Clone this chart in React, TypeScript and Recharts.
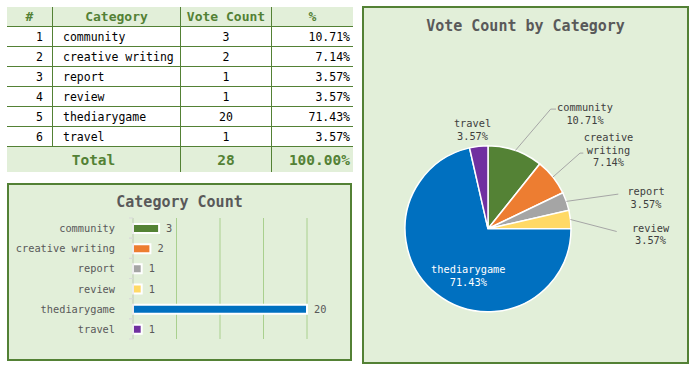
import React from 'react';
import { BarChart, Bar, XAxis, YAxis, CartesianGrid, LabelList, PieChart, Pie, Cell } from 'recharts';

const categories = ['community', 'creative writing', 'report', 'review', 'thediarygame', 'travel'];
const voteCounts = [3, 2, 1, 1, 20, 1];
const sliceColors = ['#548235', '#ed7d31', '#a5a5a5', '#ffd966', '#0070c0', '#7030a0'];
const xTicks = [0, 5, 10, 15, 20];
const tableHeaders = ['#', 'Category', 'Vote Count', '%'];

const FONT = '"DejaVu Sans Mono", "Liberation Mono", monospace';
const GREEN = '#538135';
const LIGHT = '#e2efd9';
const GRAY_TEXT = '#595959';

const total = voteCounts.reduce((a, b) => a + b, 0);
const pctText = (v: number) => ((v / total) * 100).toFixed(2) + '%';
const data = categories.map((name, i) => ({ name, value: voteCounts[i], pct: pctText(voteCounts[i]) }));

// label placement around the pie (offsets from the pie centre)
type LabelLayout = { tx: number; ty: number; elbow?: [number, number]; end?: [number, number]; wrap?: boolean; fill?: string };
const pieLabelLayout: Record<string, LabelLayout> = {
  community: { tx: 97, ty: -122, elbow: [62.7, -119.7], end: [68, -119.7] },
  'creative writing': { tx: 120.5, ty: -92, elbow: [92, -75.7], end: [95.3, -75.7], wrap: true },
  report: { tx: 158, ty: -38, end: [130.3, -34.7] },
  review: { tx: 162.5, ty: -1.3, end: [128.7, 2.7] },
  thediarygame: { tx: -19.7, ty: 40.3, fill: '#ffffff' },
  travel: { tx: -15.5, ty: -105.7 },
};

const colW = [46, 128, 91, 81];

const cellBase: React.CSSProperties = {
  boxSizing: 'border-box',
  height: '100%',
  display: 'flex',
  alignItems: 'center',
  overflow: 'hidden',
  whiteSpace: 'nowrap',
};

function DataTable() {
  const rowStyle = (h: number, bg: string, last = false): React.CSSProperties => ({
    display: 'flex',
    height: h,
    boxSizing: 'border-box',
    borderBottom: last ? 'none' : `1px solid ${GREEN}`,
    background: bg,
  });
  return (
    <div style={{ position: 'absolute', left: 7, top: 7, width: 346, fontFamily: FONT }}>
      <div style={rowStyle(20, LIGHT)}>
        {tableHeaders.map((h, i) => (
          <div
            key={h}
            style={{
              ...cellBase,
              width: colW[i],
              justifyContent: 'center',
              borderRight: i < 3 ? `1px solid ${GREEN}` : 'none',
              color: GREEN,
              fontWeight: 'bold',
              fontSize: 13,
            }}
          >
            {h}
          </div>
        ))}
      </div>
      {data.map((d, r) => (
        <div key={d.name} style={rowStyle(20, '#ffffff')}>
          <div style={{ ...cellBase, width: colW[0], justifyContent: 'flex-end', paddingRight: 9, borderRight: `1px solid ${GREEN}`, fontSize: 11.5, color: '#000' }}>{r + 1}</div>
          <div style={{ ...cellBase, width: colW[1], justifyContent: 'flex-start', paddingLeft: 10, borderRight: `1px solid ${GREEN}`, fontSize: 11.5, color: '#000' }}>{d.name}</div>
          <div style={{ ...cellBase, width: colW[2], justifyContent: 'center', borderRight: `1px solid ${GREEN}`, fontSize: 11.5, color: '#000' }}>{d.value}</div>
          <div style={{ ...cellBase, width: colW[3], justifyContent: 'flex-end', paddingRight: 3, fontSize: 11.5, color: '#000' }}>{d.pct}</div>
        </div>
      ))}
      <div style={rowStyle(25, LIGHT, true)}>
        <div style={{ ...cellBase, width: colW[0] + colW[1], justifyContent: 'center', borderRight: `1px solid ${GREEN}`, fontSize: 14.5, fontWeight: 'bold', color: GREEN }}>Total</div>
        <div style={{ ...cellBase, width: colW[2], justifyContent: 'center', borderRight: `1px solid ${GREEN}`, fontSize: 14.5, fontWeight: 'bold', color: GREEN }}>{total}</div>
        <div style={{ ...cellBase, width: colW[3], justifyContent: 'flex-end', paddingRight: 3, fontSize: 14.5, fontWeight: 'bold', color: GREEN }}>{pctText(total)}</div>
      </div>
    </div>
  );
}

const BAR_W = 345;
const BAR_H = 178;
const BAR_MARGIN = { top: 35, right: 45, bottom: 22, left: 0 };
const BAND = (BAR_H - BAR_MARGIN.top - BAR_MARGIN.bottom) / categories.length;

function CategoryTick(props: any) {
  const { x, y, payload } = props;
  const axisX = x + 18;
  return (
    <g>
      <line x1={axisX - 4} x2={axisX} y1={y - BAND / 2} y2={y - BAND / 2} stroke="#d9d9d9" />
      <line x1={axisX - 4} x2={axisX} y1={y + BAND / 2} y2={y + BAND / 2} stroke="#d9d9d9" />
      <text x={x} y={y} textAnchor="end" dominantBaseline="central" fill={GRAY_TEXT} fontSize={10.3} fontFamily={FONT}>
        {payload.value}
      </text>
    </g>
  );
}

function CategoryBarChart() {
  return (
    <div
      style={{
        position: 'absolute',
        left: 7,
        top: 183,
        width: BAR_W,
        height: BAR_H,
        boxSizing: 'border-box',
        border: `2px solid ${GREEN}`,
        background: LIGHT,
      }}
    >
      <div
        style={{
          position: 'absolute',
          left: 0,
          right: 0,
          top: 8,
          textAlign: 'center',
          fontFamily: FONT,
          fontWeight: 'bold',
          fontSize: 15,
          color: GRAY_TEXT,
        }}
      >
        Category Count
      </div>
      <div style={{ position: 'absolute', left: -2, top: -2 }}>
        <BarChart width={BAR_W} height={BAR_H} data={data} layout="vertical" margin={BAR_MARGIN}>
          <CartesianGrid horizontal={false} vertical stroke="#a9d08e" />
          <XAxis type="number" domain={[0, 20]} ticks={xTicks} hide />
          <YAxis
            type="category"
            dataKey="name"
            width={126}
            axisLine={{ stroke: '#d9d9d9' }}
            tickLine={false}
            tickSize={6}
            tickMargin={12}
            tick={<CategoryTick />}
            interval={0}
          />
          <Bar dataKey="value" barSize={9} stroke="#ffffff" strokeWidth={2} isAnimationActive={false}>
            {data.map((d, i) => (
              <Cell key={d.name} fill={sliceColors[i]} />
            ))}
            <LabelList dataKey="value" position="right" offset={7} fill={GRAY_TEXT} fontSize={10.3} fontFamily={FONT} />
          </Bar>
        </BarChart>
      </div>
    </div>
  );
}

const RAD = Math.PI / 180;

function renderPieLabel(props: any) {
  const { cx, cy, midAngle, outerRadius, name, index } = props;
  const d = data[index];
  const layout = pieLabelLayout[name ?? d.name];
  if (!layout) return null;
  const sx = cx + outerRadius * Math.cos(-midAngle * RAD);
  const sy = cy + outerRadius * Math.sin(-midAngle * RAD);
  const pts: string[] = [];
  if (layout.elbow || layout.end) {
    pts.push(`${sx},${sy}`);
    if (layout.elbow) pts.push(`${cx + layout.elbow[0]},${cy + layout.elbow[1]}`);
    if (layout.end) pts.push(`${cx + layout.end[0]},${cy + layout.end[1]}`);
  }
  const lines = layout.wrap ? [...d.name.split(' '), d.pct] : [d.name, d.pct];
  const lh = 12.8;
  return (
    <g key={`lbl-${index}`}>
      {pts.length > 0 && <polyline points={pts.join(' ')} fill="none" stroke="#a6a6a6" strokeWidth={1} />}
      {lines.map((t, k) => (
        <text
          key={k}
          x={cx + layout.tx}
          y={cy + layout.ty + k * lh}
          textAnchor="middle"
          dominantBaseline="central"
          fill={layout.fill ?? '#404040'}
          fontSize={10.3}
          fontFamily={FONT}
        >
          {t}
        </text>
      ))}
    </g>
  );
}

function CategoryPieChart() {
  const W = 327;
  const H = 358;
  return (
    <div
      style={{
        position: 'absolute',
        left: 362,
        top: 6,
        width: W,
        height: H,
        boxSizing: 'border-box',
        border: `2px solid ${GREEN}`,
        background: LIGHT,
      }}
    >
      <div
        style={{
          position: 'absolute',
          left: 0,
          right: 0,
          top: 9,
          textAlign: 'center',
          fontFamily: FONT,
          fontWeight: 'bold',
          fontSize: 15,
          color: GRAY_TEXT,
        }}
      >
        Vote Count by Category
      </div>
      <div style={{ position: 'absolute', left: -2, top: -2 }}>
        <PieChart width={W} height={H} margin={{ top: 0, right: 0, bottom: 0, left: 0 }}>
          <Pie
            data={data}
            dataKey="value"
            nameKey="name"
            cx={126}
            cy={222.8}
            outerRadius={83}
            startAngle={90}
            endAngle={-270}
            stroke="#ffffff"
            strokeWidth={1.5}
            label={renderPieLabel}
            labelLine={false}
            isAnimationActive={false}
          >
            {data.map((d, i) => (
              <Cell key={d.name} fill={sliceColors[i]} />
            ))}
          </Pie>
        </PieChart>
      </div>
    </div>
  );
}

export default function App() {
  return (
    <div style={{ position: 'absolute', left: 0, top: 0, width: 695, height: 368, background: '#ffffff', overflow: 'hidden' }}>
      <DataTable />
      <CategoryBarChart />
      <CategoryPieChart />
    </div>
  );
}
